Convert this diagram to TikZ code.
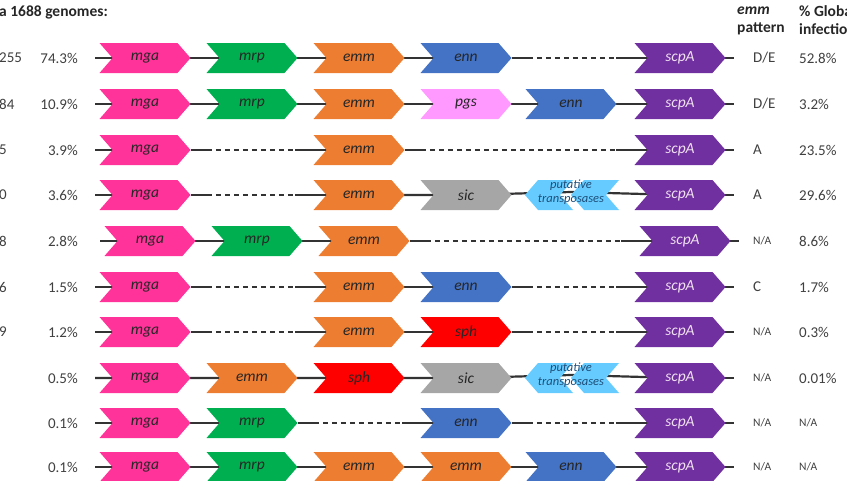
\documentclass[tikz,border=0pt]{standalone}
\usepackage{fontspec}
\setmainfont{Carlito}
\usetikzlibrary{shapes.symbols,backgrounds}

\definecolor{mgapink}{HTML}{FF3399}
\definecolor{mrpgreen}{HTML}{00B050}
\definecolor{emmorange}{HTML}{ED7D31}
\definecolor{ennblue}{HTML}{4472C4}
\definecolor{scppurple}{HTML}{7030A0}
\definecolor{pgspink}{HTML}{FF99FF}
\definecolor{sicgray}{HTML}{A6A6A6}
\definecolor{sphred}{HTML}{FF0000}
\definecolor{tpcyan}{HTML}{66CCFF}
\definecolor{tptext}{HTML}{1F4E79}

\tikzset{
  gene/.style={signal, signal to=east, signal from=west, signal pointer angle=98,
    minimum width=91, minimum height=30, inner sep=0pt, text=black!85,
    font=\fontsize{15.5}{18}\selectfont\itshape},
  mga/.style={gene, fill=mgapink},
  mrp/.style={gene, fill=mrpgreen},
  emm/.style={gene, fill=emmorange},
  enn/.style={gene, fill=ennblue},
  pgs/.style={gene, fill=pgspink},
  sic/.style={gene, fill=sicgray},
  sph/.style={gene, fill=sphred},
  scpA/.style={gene, fill=scppurple, text=white!88!violet},
  tpbox/.style={signal, signal to=west, signal from=east, signal pointer angle=98,
    minimum width=48, minimum height=30, inner sep=0pt, fill=tpcyan},
  tplabel/.style={align=center, inner sep=0pt, text=tptext,
    font=\fontsize{12.5}{14}\selectfont\itshape},
  link/.style={draw=black!80, line width=2.2pt},
  gapdash/.style={dash pattern=on 5pt off 4pt},
  lab/.style={inner sep=0pt, text=black!75, font=\fontsize{15}{18}\selectfont},
  head/.style={inner sep=0pt, text=black!85, font=\fontsize{15.5}{18}\selectfont\bfseries},
}

% solid stub, dashed stretch, solid stub
\newcommand{\genegap}[2]{%
  \draw[link] (#1.east) -- ([xshift=16pt]#1.east);
  \draw[link,gapdash] ([xshift=16pt]#1.east) -- ([xshift=-64pt]#2.center);
  \draw[link] ([xshift=-64pt]#2.center) -- (#2.center);}
\newcommand{\na}{{\fontsize{11.5}{13}\selectfont N/A}}

\begin{document}
\begin{tikzpicture}[x=1pt, y=-1pt]
  \useasboundingbox (0,0) rectangle (847,480);

  % headers
  \node[head, anchor=west] (hgen) at (-1,12) {a 1688 genomes:};
  \node[head, anchor=west] (hpat1) at (737,11) {\itshape emm};
  \node[head, anchor=west] (hpat2) at (737,29) {pattern};
  \node[head, anchor=west] (hglob1) at (799,11) {\% Global};
  \node[head, anchor=west] (hglob2) at (799,29) {infections};

  % counts and shares per row
  \foreach \y/\n/\p in {58/255/74.3, 104/84/10.9, 150/5/3.9, 195/0/3.6, 241/8/2.8,
      287/6/1.5, 332/9/1.2} {
    \node[lab, anchor=west] (n\y) at (-1,\y) {\n};
  }
  \foreach \y/\p in {58/74.3, 104/10.9, 150/3.9, 195/3.6, 241/2.8, 287/1.5,
      332/1.2, 378/0.5, 423/0.1, 467/0.1} {
    \node[lab, anchor=east] (p\y) at (78,\y) {\p\%};
  }

  % emm pattern and global infections
  \foreach \y/\a/\b in {58/D\slash E/52.8\%, 104/D\slash E/3.2\%, 150/A/23.5\%,
      195/A/29.6\%, 241/\na/8.6\%, 287/C/1.7\%, 332/\na/0.3\%, 378/\na/0.01\%,
      423/\na/\na, 467/\na/\na} {
    \node[lab, anchor=west] (pat\y) at (753,\y) {\a};
    \node[lab, anchor=west] (glob\y) at (799,\y) {\b};
  }

  % row 1
  \node[mga] (r1mga) at (145,58) {mga};
  \node[mrp] (r1mrp) at (252,58) {mrp};
  \node[emm] (r1emm) at (359,58) {emm};
  \node[enn] (r1enn) at (466,58) {enn};
  \node[scpA] (r1scpA) at (680,58) {scpA};
  % row 2
  \node[mga] (r2mga) at (145,104) {mga};
  \node[mrp] (r2mrp) at (252,104) {mrp};
  \node[emm] (r2emm) at (359,104) {emm};
  \node[pgs] (r2pgs) at (466,104) {pgs};
  \node[enn] (r2enn) at (571,104) {enn};
  \node[scpA] (r2scpA) at (680,104) {scpA};
  % row 3
  \node[mga] (r3mga) at (145,150) {mga};
  \node[emm] (r3emm) at (359,150) {emm};
  \node[scpA] (r3scpA) at (680,150) {scpA};
  % row 4
  \node[mga] (r4mga) at (145,195) {mga};
  \node[emm] (r4emm) at (359,195) {emm};
  \node[sic] (r4sic) at (466,195) {sic};
  \node[tpbox] (r4tpa) at (549,195) {};
  \node[tpbox] (r4tpb) at (595,195) {};
  \node[tplabel] (r4tp) at (571,192) {putative\\transposases};
  \node[scpA] (r4scpA) at (680,195) {scpA};
  % row 5
  \node[mga] (r5mga) at (150,241) {mga};
  \node[mrp] (r5mrp) at (257,241) {mrp};
  \node[emm] (r5emm) at (364,241) {emm};
  \node[scpA] (r5scpA) at (685,241) {scpA};
  % row 6
  \node[mga] (r6mga) at (145,287) {mga};
  \node[emm] (r6emm) at (359,287) {emm};
  \node[enn] (r6enn) at (466,287) {enn};
  \node[scpA] (r6scpA) at (680,287) {scpA};
  % row 7
  \node[mga] (r7mga) at (145,332) {mga};
  \node[emm] (r7emm) at (359,332) {emm};
  \node[sph] (r7sph) at (466,332) {sph};
  \node[scpA] (r7scpA) at (680,332) {scpA};
  % row 8
  \node[mga] (r8mga) at (145,378) {mga};
  \node[emm] (r8emm) at (252,378) {emm};
  \node[sph] (r8sph) at (359,378) {sph};
  \node[sic] (r8sic) at (466,378) {sic};
  \node[tpbox] (r8tpa) at (549,378) {};
  \node[tpbox] (r8tpb) at (595,378) {};
  \node[tplabel] (r8tp) at (571,375) {putative\\transposases};
  \node[scpA] (r8scpA) at (680,378) {scpA};
  % row 9
  \node[mga] (r9mga) at (145,423) {mga};
  \node[mrp] (r9mrp) at (252,423) {mrp};
  \node[enn] (r9enn) at (466,423) {enn};
  \node[scpA] (r9scpA) at (680,423) {scpA};
  % row 10
  \node[mga] (r10mga) at (145,467) {mga};
  \node[mrp] (r10mrp) at (252,467) {mrp};
  \node[emm] (r10emma) at (359,467) {emm};
  \node[emm] (r10emmb) at (466,467) {emm};
  \node[enn] (r10enn) at (571,467) {enn};
  \node[scpA] (r10scpA) at (680,467) {scpA};

  % loose ends of each row
  \foreach \r/\y/\dx in {1/58/0, 2/104/0, 3/150/0, 4/195/0, 5/241/5, 6/287/0,
      7/332/0, 8/378/0, 9/423/0, 10/467/0} {
    \coordinate (r\r s) at (95+\dx,\y);
    \coordinate (r\r e) at (734+\dx,\y);
  }

  % backbone lines
  \begin{scope}[on background layer]
    \draw[link] (r1s) -- (r1mga.center) -- (r1mrp.center) -- (r1emm.center) -- (r1enn.center);
    \genegap{r1enn}{r1scpA}
    \draw[link] (r2s) -- (r2mga.center) -- (r2mrp.center) -- (r2emm.center)
      -- (r2pgs.center) -- (r2enn.center) -- (r2scpA.center);
    \draw[link] (r3s) -- (r3mga.center);
    \genegap{r3mga}{r3emm}
    \genegap{r3emm}{r3scpA}
    \draw[link] (r4s) -- (r4mga.center);
    \genegap{r4mga}{r4emm}
    \draw[link] (r4emm.center) -- (r4sic.center) -- (r4tp.center) -- (r4scpA.center);
    \draw[link] (r5s) -- (r5mga.center) -- (r5mrp.center) -- (r5emm.center);
    \genegap{r5emm}{r5scpA}
    \draw[link] (r6s) -- (r6mga.center);
    \genegap{r6mga}{r6emm}
    \draw[link] (r6emm.center) -- (r6enn.center);
    \genegap{r6enn}{r6scpA}
    \draw[link] (r7s) -- (r7mga.center);
    \genegap{r7mga}{r7emm}
    \draw[link] (r7emm.center) -- (r7sph.center);
    \genegap{r7sph}{r7scpA}
    \draw[link] (r8s) -- (r8mga.center) -- (r8emm.center) -- (r8sph.center)
      -- (r8sic.center) -- (r8tp.center) -- (r8scpA.center);
    \draw[link] (r9s) -- (r9mga.center) -- (r9mrp.center);
    \genegap{r9mrp}{r9enn}
    \genegap{r9enn}{r9scpA}
    \draw[link] (r10s) -- (r10mga.center) -- (r10mrp.center) -- (r10emma.center)
      -- (r10emmb.center) -- (r10enn.center) -- (r10scpA.center);
    \foreach \r in {1,...,10} {
      \draw[link] (r\r scpA.center) -- (r\r e);
    }
  \end{scope}
\end{tikzpicture}
\end{document}
